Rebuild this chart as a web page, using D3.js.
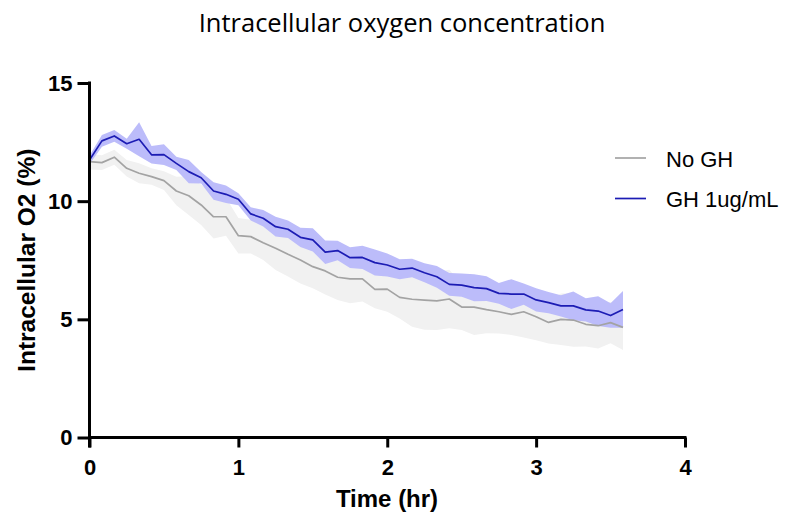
<!DOCTYPE html>
<html>
<head>
<meta charset="utf-8">
<script src="https://cdn.jsdelivr.net/npm/d3@7"></script>
<style>
  html, body { margin: 0; padding: 0; background: #ffffff; }
  svg { display: block; }
</style>
</head>
<body>
<svg id="chart" width="796" height="523"></svg>
<script>
// Sampling times (minutes after start)
const timeMin = [0, 5, 10, 15, 20, 25, 30, 35, 40, 45, 50, 55, 60, 65, 70, 75, 80, 85, 90, 95,
  100, 105, 110, 115, 120, 125, 130, 135, 140, 145, 150, 155, 160, 165, 170, 175, 180, 185,
  190, 195, 200, 205, 210, 215];

// No GH: mean and SEM of intracellular O2 (%)
const noGhMean = [11.67, 11.63, 11.86, 11.39, 11.18, 11.04, 10.87, 10.43, 10.23, 9.84, 9.34, 9.34,
  8.54, 8.50, 8.24, 8.01, 7.75, 7.51, 7.23, 7.05, 6.78, 6.71, 6.71, 6.27, 6.28, 5.93, 5.85, 5.81,
  5.78, 5.86, 5.52, 5.52, 5.41, 5.32, 5.21, 5.32, 5.11, 4.87, 5.00, 4.97, 4.79, 4.73, 4.86, 4.66];
const noGhSem = [0.33, 0.31, 0.32, 0.35, 0.42, 0.35, 0.40, 0.60, 0.82, 0.85, 0.92, 0.80,
  0.75, 0.71, 0.73, 0.92, 0.94, 0.99, 0.92, 1.00, 0.96, 1.03, 0.96, 0.80, 0.96, 0.89, 1.16, 1.25,
  1.23, 1.24, 0.97, 1.18, 1.00, 0.92, 0.87, 1.09, 0.99, 0.89, 1.09, 1.13, 0.94, 0.96, 0.87, 0.96];

// GH 1ug/mL: mean and SEM of intracellular O2 (%)
const ghMean = [11.74, 12.55, 12.76, 12.43, 12.62, 11.96, 11.97, 11.60, 11.25, 10.99, 10.43, 10.29,
  10.08, 9.46, 9.28, 8.92, 8.81, 8.47, 8.36, 7.84, 7.91, 7.61, 7.62, 7.40, 7.30, 7.12, 7.17, 6.97,
  6.80, 6.48, 6.45, 6.34, 6.30, 6.10, 6.07, 6.07, 5.82, 5.71, 5.57, 5.57, 5.40, 5.35, 5.16, 5.42];
const ghSem = [0.18, 0.25, 0.25, 0.21, 0.72, 0.37, 0.44, 0.28, 0.49, 0.24, 0.37, 0.37,
  0.25, 0.28, 0.35, 0.42, 0.37, 0.41, 0.49, 0.50, 0.41, 0.44, 0.49, 0.55, 0.49, 0.42, 0.39, 0.40,
  0.46, 0.48, 0.49, 0.57, 0.52, 0.44, 0.63, 0.45, 0.49, 0.45, 0.45, 0.61, 0.49, 0.63, 0.52, 0.78];

const xTicks = [0, 1, 2, 3, 4];
const yTicks = [0, 5, 10, 15];
const seriesNames = ["No GH", "GH 1ug/mL"];

const series = [
  { name: seriesNames[0], mean: noGhMean, sem: noGhSem, line: "#a3a3a3", band: "#f1f1f1" },
  { name: seriesNames[1], mean: ghMean, sem: ghSem, line: "#1c1cb4", band: "#bcbcfa" }
];

const svg = d3.select("#chart");
const x = d3.scaleLinear().domain([0, 4]).range([89.5, 685]);
const y = d3.scaleLinear().domain([0, 15]).range([437.5, 83]);

const rows = s => timeMin.map((m, i) => ({ t: m / 60, v: s.mean[i], e: s.sem[i] }));

// error bands (mean ± SEM)
const area = d3.area()
  .x(d => x(d.t))
  .y0(d => y(d.v - d.e))
  .y1(d => y(d.v + d.e));
series.forEach(s => {
  svg.append("path").datum(rows(s))
    .attr("d", area)
    .attr("fill", s.band);
});

// mean lines
const line = d3.line().x(d => x(d.t)).y(d => y(d.v));
series.forEach(s => {
  svg.append("path").datum(rows(s))
    .attr("d", line)
    .attr("fill", "none")
    .attr("stroke", s.line)
    .attr("stroke-width", 1.7)
    .attr("stroke-linejoin", "round");
});

// axes
const tickFont = "bold 22px 'Liberation Sans', Arial, sans-serif";
const xAxis = svg.append("g")
  .attr("transform", `translate(0,${y(0)})`)
  .call(d3.axisBottom(x).tickValues(xTicks).tickFormat(d3.format("d")).tickSize(10).tickSizeOuter(0).tickPadding(12));
const yAxis = svg.append("g")
  .attr("transform", `translate(${x(0)},0)`)
  .call(d3.axisLeft(y).tickValues(yTicks).tickFormat(d3.format("d")).tickSize(12).tickSizeOuter(0).tickPadding(5));

[xAxis, yAxis].forEach(g => {
  g.select(".domain").attr("stroke", "#000").attr("stroke-width", 3);
  g.selectAll(".tick line").attr("stroke", "#000").attr("stroke-width", 3);
  g.selectAll(".tick text").style("font", tickFont).attr("fill", "#000");
});
yAxis.select(".domain").attr("d", `M0,${y(15) - 1.5}V${y(0) + 10}`);
xAxis.select(".domain").attr("d", `M${x(0) - 1.5},0H${x(4) + 1.5}`);

// title and axis titles
svg.append("text")
  .attr("x", 402).attr("y", 32)
  .attr("text-anchor", "middle")
  .style("font", "25.5px 'Open Sans', Arial, sans-serif")
  .attr("fill", "#000")
  .text("Intracellular oxygen concentration");

svg.append("text")
  .attr("x", 387).attr("y", 507)
  .attr("text-anchor", "middle")
  .style("font", "bold 24px 'Liberation Sans', Arial, sans-serif")
  .text("Time (hr)");

svg.append("text")
  .attr("transform", `translate(35,${(y(0) + y(15)) / 2}) rotate(-90)`)
  .attr("text-anchor", "middle")
  .style("font", "bold 24.5px 'Liberation Sans', Arial, sans-serif")
  .text("Intracellular O2 (%)");

// legend
const legend = svg.append("g");
series.forEach((s, i) => {
  const ly = 158 + i * 40.5;
  legend.append("line")
    .attr("x1", 615).attr("x2", 646)
    .attr("y1", ly).attr("y2", ly)
    .attr("stroke", s.line).attr("stroke-width", 1.7);
  legend.append("text")
    .attr("x", 666).attr("y", ly + 8.5)
    .style("font", "22px 'Liberation Sans', Arial, sans-serif")
    .text(s.name);
});
</script>
</body>
</html>
